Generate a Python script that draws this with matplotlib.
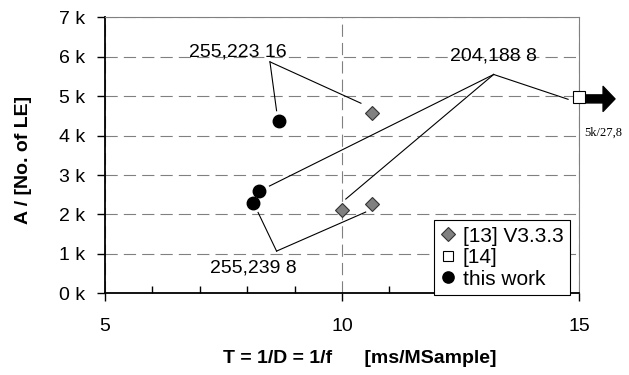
import matplotlib
matplotlib.use("Agg")
import matplotlib.pyplot as plt
from matplotlib.ticker import FuncFormatter, MultipleLocator

plt.rcParams['font.family'] = ['Liberation Sans', 'DejaVu Sans']

# data (T in ms/MSample, A in LE)
ref13_t = [10.64, 10.0, 10.64]
ref13_a = [4570, 2110, 2260]
ref14_t = [15.0]
ref14_a = [4990]
this_t = [8.68, 8.24, 8.12]
this_a = [4370, 2600, 2300]

# callout labels: text position and leader line ends
callouts = [
    ("255,223 16", (7.80, 6130), (8.48, 5870), [(8.62, 4630), (10.40, 4820)]),
    ("204,188 8", (13.19, 6020), (13.20, 5550), [(14.77, 4920), (8.47, 2720), (10.08, 2390)]),
    ("255,239 8", (8.13, 630), (8.62, 1070), [(8.23, 2050), (10.50, 2060)]),
]

fig = plt.figure(figsize=(6.29, 3.75), dpi=100)
ax = fig.add_axes([0.1669, 0.2179, 0.7536, 0.736])

ax.plot(ref13_t, ref13_a, 'D', ms=7.6, mfc='#808080', mec='#333333', mew=0.8,
        ls='none', label='[13] V3.3.3', clip_on=False, zorder=5)
ax.plot(ref14_t, ref14_a, 's', ms=8, mfc='white', mec='black', mew=0.8,
        ls='none', label='[14]', clip_on=False, zorder=5)
ax.plot(this_t, this_a, 'o', ms=9, mfc='black', mec='black',
        ls='none', label='this work', clip_on=False, zorder=5)

for txt, tpos, apex, ends in callouts:
    ax.text(tpos[0], tpos[1], txt, fontsize=14, ha='center', va='center', zorder=6)
    for e in ends:
        ax.plot([apex[0], e[0]], [apex[1], e[1]], color='black', lw=0.8, zorder=4)

# arrow for the off-scale point
ax.annotate('', xy=(15.76, 4930), xytext=(15.15, 4930), annotation_clip=False,
            arrowprops=dict(arrowstyle='simple,head_length=0.86,head_width=1.8,tail_width=0.58',
                            mutation_scale=10, color='black', shrinkA=0, shrinkB=0))
ax.text(15.51, 4070, '5k/27,8', fontsize=9, family='Liberation Serif',
        ha='center', va='center')

ax.set_xlim(5, 15)
ax.set_ylim(0, 7000)
ax.xaxis.set_major_locator(MultipleLocator(5))
ax.xaxis.set_minor_locator(MultipleLocator(1))
ax.yaxis.set_major_locator(MultipleLocator(1000))
ax.yaxis.set_major_formatter(FuncFormatter(lambda v, p: f"{int(round(v / 1000))} k"))

ax.tick_params(axis='x', which='major', direction='out', length=6, width=1, pad=12, labelsize=14)
ax.tick_params(axis='x', which='minor', direction='in', length=5, width=1)
ax.tick_params(axis='y', which='major', direction='out', length=6, width=1, pad=8, labelsize=14)

ax.grid(True, which='major', color='#808080', lw=0.8, ls=(0, (11, 5.5)))
ax.set_axisbelow(True)

for s in ['left', 'bottom']:
    ax.spines[s].set_color('black')
    ax.spines[s].set_linewidth(1.3)
for s in ['top', 'right']:
    ax.spines[s].set_color('#808080')
    ax.spines[s].set_linewidth(0.8)

ax.set_xlabel('T = 1/D = 1/f      [ms/MSample]', fontsize=14, fontweight='bold')
ax.xaxis.set_label_coords(0.537, -0.205)
ax.set_ylabel('A / [No. of LE]', fontsize=14, fontweight='bold')
ax.yaxis.set_label_coords(-0.154, 0.483)

leg = ax.legend(loc='lower right', bbox_to_anchor=(0.981, -0.006), borderaxespad=0,
                fontsize=15, fancybox=False, framealpha=1, edgecolor='black',
                handlelength=0.8, handletextpad=0.3, labelspacing=0.12,
                borderpad=0.3, markerscale=0.9)
leg.get_frame().set_linewidth(0.8)
leg.set_zorder(10)

plt.savefig('out.png', dpi=100)
